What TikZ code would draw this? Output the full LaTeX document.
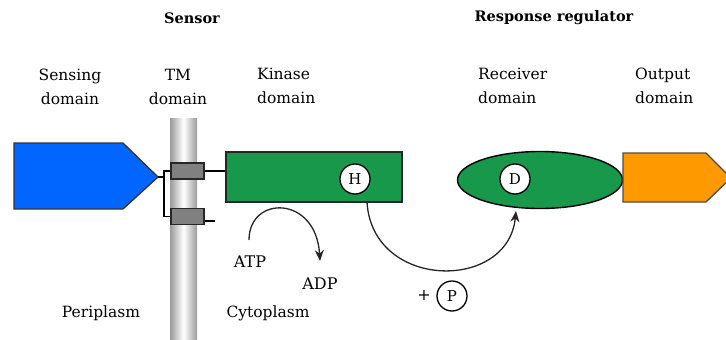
\documentclass[tikz,border=0pt]{standalone}
\usepackage{fontspec}
\setmainfont{DejaVu Serif}
\usetikzlibrary{arrows.meta,shapes.geometric}
\definecolor{sblue}{RGB}{0,102,255}
\definecolor{sgreen}{RGB}{24,152,74}
\definecolor{sorange}{RGB}{255,153,0}
\definecolor{sgray}{RGB}{128,128,128}
\definecolor{memgray}{RGB}{155,155,155}
\tikzset{
  lbl/.style={font=\fontsize{15.5}{24}\selectfont, align=left, inner sep=0pt, anchor=north west},
  lblc/.style={font=\fontsize{15.5}{24}\selectfont, align=center, inner sep=0pt},
  ttl/.style={font=\fontsize{14.5}{18}\selectfont\bfseries, inner sep=0pt},
  res/.style={circle, draw=black, fill=white, line width=1.3pt, minimum size=30pt, inner sep=0pt, font=\fontsize{15}{15}\selectfont},
  tmbox/.style={draw=black!85, fill=sgray, line width=1.3pt, minimum width=33pt, minimum height=16pt, inner sep=0pt},
  conn/.style={line width=1.3pt, black},
  arr/.style={line width=1.3pt, black!85, -{Stealth[length=11pt,width=9pt]}},
}
\begin{document}
\begin{tikzpicture}[x=1pt,y=-1pt]
\useasboundingbox (0,0) rectangle (726,340);
% membrane
\shade[left color=memgray, right color=memgray, middle color=white] (170,118) rectangle (197,342);
% titles
\node[ttl] (sensor) at (192,18) {Sensor};
\node[ttl] (rr) at (554,18) {Response regulator};
% domain labels
\node[lblc] (sens) at (70,87) {Sensing\\domain};
\node[lblc] (tm) at (178,87) {TM\\domain};
\node[lbl] (kin) at (257,68) {Kinase\\domain};
\node[lbl] (rec) at (478,68) {Receiver\\domain};
\node[lbl] (out) at (635,68) {Output\\domain};
% sensing domain (blue)
\draw[fill=sblue, draw=black!80, line width=1.3pt] (14,143) -- (123,143) -- (158,177) coordinate (tip) -- (123,209) -- (14,209) -- cycle;
% TM boxes
\node[tmbox] (tm1) at (187.5,171) {};
\node[tmbox] (tm2) at (187.5,216.5) {};
\coordinate (j) at (164,177);
\draw[conn] (tip) -- (j);
\draw[conn] (tm1.west) -| (164,177) |- (tm2.west);
% kinase box
\node[draw=black!85, fill=sgreen, line width=1.4pt, minimum width=176pt, minimum height=50pt, inner sep=0pt] (kinase) at (314,177) {};
\draw[conn] (tm1.east) -- (tm1.east -| kinase.west);
\coordinate (stub) at (215,221);
\draw[conn] (tm2.east |- stub) -- (stub);
\node[res] (H) at (355,179) {H};
% receiver ellipse
\node[ellipse, draw=black, fill=sgreen, line width=1.4pt, minimum width=165pt, minimum height=57pt, inner sep=0pt] (recv) at (540,180) {};
\node[res] (D) at (515,179) {D};
% output domain (orange)
\draw[fill=sorange, draw=black!70, line width=1.3pt] (623,153) -- (706,153) -- (731,178) -- (706,202) -- (623,202) -- cycle;
% ATP -> ADP
\node[font=\fontsize{16}{16}\selectfont, inner sep=0pt] (atp) at (250,262) {ATP};
\node[font=\fontsize{16}{16}\selectfont, inner sep=0pt] (adp) at (320,284) {ADP};
\coordinate (a0) at (249,240);
\coordinate (a1) at (320,261);
\draw[arr] (a0) .. controls (249,195) and (316,195) .. (a1);
% phosphotransfer
\coordinate (h0) at (367,202);
\coordinate (d0) at (516,211);
\draw[arr] (h0) .. controls (372,290) and (508,292) .. (d0);
\node[font=\fontsize{16}{16}\selectfont, inner sep=0pt] (plus) at (424,295) {+};
\node[res] (P) at (452,296) {P};
% compartments
\node[lblc] (peri) at (101,313) {Periplasm};
\node[lblc] (cyto) at (268,313) {Cytoplasm};
\end{tikzpicture}
\end{document}
